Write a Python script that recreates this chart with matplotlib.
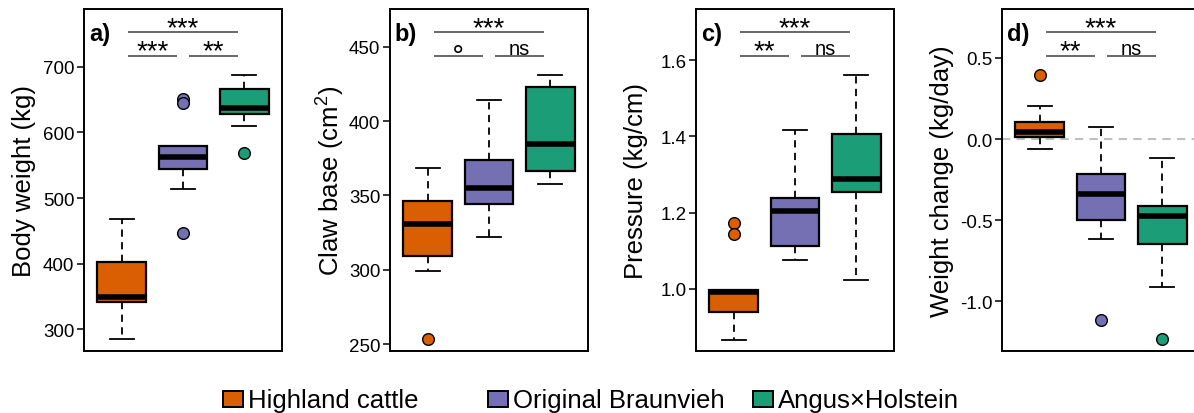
"""Box plots of body weight, claw base, pressure and weight change for three cattle breeds."""

import matplotlib

matplotlib.use("Agg")
import matplotlib.pyplot as plt
from matplotlib.patches import Rectangle
from matplotlib.transforms import blended_transform_factory

plt.rcParams["font.family"] = ["Liberation Sans", "DejaVu Sans"]
plt.rcParams["mathtext.fontset"] = "custom"
plt.rcParams["mathtext.rm"] = "Liberation Sans"
plt.rcParams["axes.unicode_minus"] = False

BREEDS = ["Highland cattle", "Original Braunvieh", "Angus×Holstein"]
COLORS = ["#D95F02", "#7570B3", "#1B9E77"]

# (lower whisker, Q1, median, Q3, upper whisker) per breed
body_weight = [(285, 341.6, 350, 402.5, 468.5),
               (514, 543.6, 563, 580, 580),
               (610, 627.4, 637, 666.5, 688)]
body_weight_out = [[], [651, 645, 447], [568.5]]

claw_base = [(299.4, 309.3, 330.8, 346.4, 368.6),
             (322.3, 344.0, 354.7, 374.0, 414.4),
             (357.6, 366.3, 384.5, 422.9, 430.8)]
claw_base_out = [[253.4], [], []]

pressure = [(0.867, 0.938, 0.991, 0.997, 0.997),
            (1.075, 1.113, 1.204, 1.237, 1.4175),
            (1.0245, 1.253, 1.288, 1.406, 1.561)]
pressure_out = [[1.173, 1.145], [], []]

weight_change = [(-0.06, 0.0157, 0.0465, 0.104, 0.2065),
                 (-0.614, -0.497, -0.341, -0.218, 0.075),
                 (-0.91, -0.647, -0.471, -0.411, -0.118)]
weight_change_out = [[0.397], [-1.113], [-1.23]]

# significance: (1 vs 3, 1 vs 2, 2 vs 3)
sig_body_weight = ["***", "***", "**"]
sig_claw_base = ["***", "∘", "ns"]
sig_pressure = ["***", "**", "ns"]
sig_weight_change = ["***", "**", "ns"]

PANELS = [
    dict(letter="a)", ylabel="Body weight (kg)", stats=body_weight, out=body_weight_out,
         sig=sig_body_weight, ylim=(267, 788), ticks=[300, 400, 500, 600, 700],
         ticklabels=["300", "400", "500", "600", "700"]),
    dict(letter="b)", ylabel="Claw base (cm$^2$)", stats=claw_base, out=claw_base_out,
         sig=sig_claw_base, ylim=(245.5, 475.3), ticks=[250, 300, 350, 400, 450],
         ticklabels=["250", "300", "350", "400", "450"]),
    dict(letter="c)", ylabel="Pressure (kg/cm)", stats=pressure, out=pressure_out,
         sig=sig_pressure, ylim=(0.837, 1.734), ticks=[1.0, 1.2, 1.4, 1.6],
         ticklabels=["1.0", "1.2", "1.4", "1.6"]),
    dict(letter="d)", ylabel="Weight change (kg/day)", stats=weight_change, out=weight_change_out,
         sig=sig_weight_change, ylim=(-1.306, 0.802), ticks=[-1.0, -0.5, 0.0, 0.5],
         ticklabels=["-1.0", "-0.5", "0.0", "0.5"], zero_line=True),
]

# bracket spans: x in box positions, y in axes fraction
SIG_SPANS = [(1.1, 2.9, 0.932), (1.1, 1.9, 0.8635), (2.1, 2.9, 0.8635)]

W, H = 1194, 414
AX_LEFTS = [84, 390, 696, 1002]
AX_W, AX_TOP, AX_BOTTOM = 198, 10, 352


def sig_text(ax, trans, x, y, label):
    if "*" in label:
        kw = dict(fontsize=20, xytext=(0, -2.0))
    elif label == "ns":
        kw = dict(fontsize=14.5, xytext=(0, 1.2))
    else:
        kw = dict(fontsize=19, xytext=(0, 0.0), family=["DejaVu Sans"])
    ax.annotate(label, xy=(x, y), xycoords=trans, textcoords="offset points",
                ha="center", va="baseline", annotation_clip=False, **kw)


def draw_panel(ax, spec):
    stats = [dict(whislo=s[0], q1=s[1], med=s[2], q3=s[3], whishi=s[4], fliers=o)
             for s, o in zip(spec["stats"], spec["out"])]
    if spec.get("zero_line"):
        ax.axhline(0, color="#c0c0c0", lw=1.5, ls=(0, (4, 3)), zorder=0)
    art = ax.bxp(
        stats, positions=[1, 2, 3], widths=0.8, capwidths=0.4, patch_artist=True,
        boxprops=dict(linewidth=1.6, edgecolor="black"),
        whiskerprops=dict(linestyle=(0, (4, 3)), linewidth=1.3, color="black"),
        capprops=dict(linewidth=1.3, color="black"),
        medianprops=dict(linewidth=4.0, color="black", solid_capstyle="butt"),
        flierprops=dict(marker="o", markersize=8.4, markeredgecolor="black",
                        markeredgewidth=1.0, linestyle="none"),
    )
    for patch, c in zip(art["boxes"], COLORS):
        patch.set_facecolor(c)
    for fl, c in zip(art["fliers"], COLORS):
        fl.set_markerfacecolor(c)

    ax.set_xlim(0.38, 3.62)
    ax.set_ylim(*spec["ylim"])
    ax.set_xticks([])
    ax.set_yticks(spec["ticks"])
    ax.set_yticklabels(spec["ticklabels"])
    ax.tick_params(axis="y", direction="out", length=5, width=1.1, pad=2, labelsize=13.5)
    for sp in ax.spines.values():
        sp.set_linewidth(1.4)

    ax.set_ylabel(spec["ylabel"], fontsize=18.5)
    ax.yaxis.set_label_coords(-0.305, 0.5)
    ax.yaxis.label.set_va("center")

    ax.text(0.025, 0.908, spec["letter"], transform=ax.transAxes,
            fontsize=17, fontweight="bold", ha="left", va="baseline")

    trans = blended_transform_factory(ax.transData, ax.transAxes)
    for (x0, x1, y), label in zip(SIG_SPANS, spec["sig"]):
        ax.plot([x0, x1], [y, y], transform=trans, color="#5c5c5c", lw=1.3,
                clip_on=False, solid_capstyle="butt")
        sig_text(ax, trans, (x0 + x1) / 2, y, label)


fig = plt.figure(figsize=(W / 100, H / 100), dpi=100)
for left, spec in zip(AX_LEFTS, PANELS):
    ax = fig.add_axes([left / W, (H - AX_BOTTOM) / H, AX_W / W, (AX_BOTTOM - AX_TOP) / H])
    draw_panel(ax, spec)

# legend row under the panels
for i, (name, c) in enumerate(zip(BREEDS, COLORS)):
    x0 = 223 + 265 * i
    fig.patches.append(Rectangle((x0 / W, (H - 408) / H), 20 / W, 16 / H,
                                 transform=fig.transFigure, facecolor=c,
                                 edgecolor="black", linewidth=1.4))
    fig.text((x0 + 25) / W, (H - 408) / H, name, fontsize=18.5, ha="left", va="baseline")

fig.savefig("out.png", dpi=100)
